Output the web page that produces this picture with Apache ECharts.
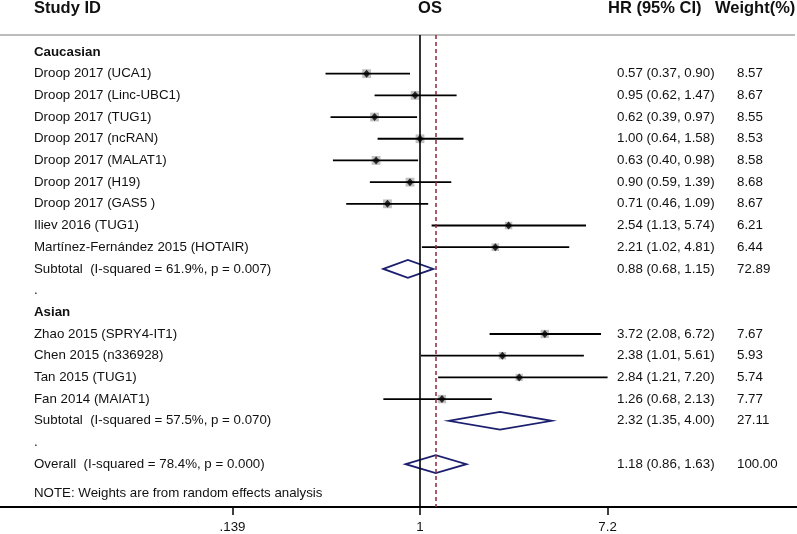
<!DOCTYPE html>
<html><head><meta charset="utf-8">
<script src="https://cdn.jsdelivr.net/npm/echarts@6/dist/echarts.min.js"></script>
<style>html,body{margin:0;padding:0;background:#fff}#c{width:797px;height:534px}</style>
</head><body><div id="c"></div>
<script>
// ---------- data ----------
const headers = ['Study ID', 'OS', 'HR (95% CI)', 'Weight(%)'];
const groupNames = ['Caucasian', 'Asian'];
const cauStudies = ['Droop 2017 (UCA1)', 'Droop 2017 (Linc-UBC1)', 'Droop 2017 (TUG1)', 'Droop 2017 (ncRAN)',
  'Droop 2017 (MALAT1)', 'Droop 2017 (H19)', 'Droop 2017 (GAS5 )', 'Iliev 2016 (TUG1)', 'Martínez-Fernández 2015 (HOTAIR)'];
const cauHR = [0.57, 0.95, 0.62, 1.00, 0.63, 0.90, 0.71, 2.54, 2.21];
const cauLo = [0.37, 0.62, 0.39, 0.64, 0.40, 0.59, 0.46, 1.13, 1.02];
const cauHi = [0.90, 1.47, 0.97, 1.58, 0.98, 1.39, 1.09, 5.74, 4.81];
const cauW  = [8.57, 8.67, 8.55, 8.53, 8.58, 8.68, 8.67, 6.21, 6.44];
const asiStudies = ['Zhao 2015 (SPRY4-IT1)', 'Chen 2015 (n336928)', 'Tan 2015 (TUG1)', 'Fan 2014 (MAIAT1)'];
const asiHR = [3.72, 2.38, 2.84, 1.26];
const asiLo = [2.08, 1.01, 1.21, 0.68];
const asiHi = [6.72, 5.61, 7.20, 2.13];
const asiW  = [7.67, 5.93, 5.74, 7.77];
const subLabels = ['Subtotal  (I-squared = 61.9%, p = 0.007)', 'Subtotal  (I-squared = 57.5%, p = 0.070)'];
const subHR = [0.88, 2.32];
const subLo = [0.68, 1.35];
const subHi = [1.15, 4.00];
const subW  = [72.89, 27.11];
const overallLabel = 'Overall  (I-squared = 78.4%, p = 0.000)';
const overallHR = 1.18, overallLo = 0.86, overallHi = 1.63, overallW = 100.00;
const noteText = 'NOTE: Weights are from random effects analysis';
const tickValues = [0.139, 1, 7.2];
const tickLabels = ['.139', '1', '7.2'];

// ---------- layout constants ----------
const FONT = '"Liberation Sans", Arial, Helvetica, sans-serif';
const FS = 13.3;
const TXT = '#111111';
const LEFT_X = 34, HR_X = 617, W_X = 737;
const NOTE_ROW = 20.36;

// ---------- build rows ----------
const rows = [];
let r = 0;
const groups = [
  {name: groupNames[0], s: cauStudies, hr: cauHR, lo: cauLo, hi: cauHi, w: cauW},
  {name: groupNames[1], s: asiStudies, hr: asiHR, lo: asiLo, hi: asiHi, w: asiW}
];
const fmtCI = (h, l, u) => h.toFixed(2) + ' (' + l.toFixed(2) + ', ' + u.toFixed(2) + ')';
groups.forEach((g, gi) => {
  rows.push({row: r++, kind: 'header', label: g.name});
  g.s.forEach((name, i) => {
    rows.push({row: r++, kind: 'study', label: name, hr: g.hr[i], lo: g.lo[i], hi: g.hi[i], w: g.w[i]});
  });
  rows.push({row: r++, kind: 'sub', label: subLabels[gi], hr: subHR[gi], lo: subLo[gi], hi: subHi[gi], w: subW[gi]});
  rows.push({row: r++, kind: 'dot', label: '.'});
});
rows.push({row: r++, kind: 'sub', label: overallLabel, hr: overallHR, lo: overallLo, hi: overallHi, w: overallW});
rows.push({row: NOTE_ROW, kind: 'note', label: noteText});

const studyRows = rows.filter(d => d.kind === 'study');
const subRows = rows.filter(d => d.kind === 'sub');

const chart = echarts.init(document.getElementById('c'), null, {renderer: 'canvas'});

const option = {
  animation: false,
  backgroundColor: '#fff',
  grid: {left: 0, right: 0, top: 35, bottom: 26},
  xAxis: {
    type: 'log', logBase: 10, position: 'bottom',
    min: 0.012035, max: 52.85,
    axisLine: {show: true, onZero: false, lineStyle: {color: '#000', width: 2}},
    axisTick: {show: true, length: 8, inside: false, lineStyle: {color: '#000', width: 1.5}, customValues: tickValues},
    axisLabel: {
      show: true, margin: 14, fontSize: FS, fontFamily: FONT, color: TXT,
      customValues: tickValues,
      formatter: v => {
        const k = tickValues.findIndex(t => Math.abs(t - v) / t < 1e-3);
        return k >= 0 ? tickLabels[k] : '';
      }
    },
    splitLine: {show: false}
  },
  yAxis: {type: 'value', inverse: true, min: -0.782, max: 20.975, show: false},
  graphic: [
    {type: 'line', shape: {x1: 0, y1: 35, x2: 795, y2: 35}, style: {stroke: '#bcbcbc', lineWidth: 2}, silent: true},
    {type: 'text', x: LEFT_X, y: 8, style: {text: headers[0], font: 'bold 16.5px ' + FONT, fill: TXT, textAlign: 'left', textVerticalAlign: 'middle'}},
    {type: 'text', x: 430, y: 8, style: {text: headers[1], font: 'bold 16.5px ' + FONT, fill: TXT, textAlign: 'center', textVerticalAlign: 'middle'}},
    {type: 'text', x: 608, y: 8, style: {text: headers[2], font: 'bold 16.5px ' + FONT, fill: TXT, textAlign: 'left', textVerticalAlign: 'middle'}},
    {type: 'text', x: 715, y: 8, style: {text: headers[3], font: 'bold 16.5px ' + FONT, fill: TXT, textAlign: 'left', textVerticalAlign: 'middle'}}
  ],
  series: [
    // reference lines
    {
      type: 'line', data: [], silent: true,
      markLine: {
        silent: true, symbol: 'none', label: {show: false},
        data: [
          {xAxis: 1, lineStyle: {color: '#000', type: 'solid', width: 1.6}},
          {xAxis: overallHR, lineStyle: {color: '#8c2a3a', type: [4, 3], width: 1.5}}
        ]
      }
    },
    // weight boxes
    {
      type: 'scatter', z: 2, silent: true,
      data: studyRows.map(d => [d.hr, d.row, d.w]),
      symbol: 'rect',
      symbolSize: v => 3 * Math.sqrt(v[2]),
      itemStyle: {color: '#b0b0b0'}
    },
    // CI lines
    {
      type: 'custom', z: 3, silent: true,
      data: studyRows.map(d => [d.lo, d.hi, d.row]),
      encode: {x: [0, 1], y: 2},
      renderItem: (params, api) => {
        const p1 = api.coord([api.value(0), api.value(2)]);
        const p2 = api.coord([api.value(1), api.value(2)]);
        return {type: 'line', shape: {x1: p1[0], y1: p1[1], x2: p2[0], y2: p2[1]}, style: {stroke: '#000', lineWidth: 1.8}};
      }
    },
    // point estimates
    {
      type: 'scatter', z: 4, silent: true,
      data: studyRows.map(d => [d.hr, d.row]),
      symbol: 'diamond', symbolSize: [7, 8],
      itemStyle: {color: '#000'}
    },
    // pooled diamonds
    {
      type: 'custom', z: 4, silent: true,
      data: subRows.map(d => [d.lo, d.hi, d.hr, d.row]),
      encode: {x: [0, 1, 2], y: 3},
      renderItem: (params, api) => {
        const row = api.value(3);
        const a = api.coord([api.value(0), row]);
        const b = api.coord([api.value(2), row - 0.41]);
        const c = api.coord([api.value(1), row]);
        const d = api.coord([api.value(2), row + 0.41]);
        return {type: 'polygon', shape: {points: [a, b, c, d]}, style: {fill: 'none', stroke: '#1b1f6e', lineWidth: 1.8}};
      }
    },
    // text columns
    {
      type: 'custom', z: 5, silent: true,
      data: rows.map((d, i) => [1, d.row, i]),
      encode: {x: 0, y: 1},
      renderItem: (params, api) => {
        const d = rows[api.value(2)];
        const y = api.coord([1, api.value(1)])[1];
        const bold = d.kind === 'header';
        const children = [{
          type: 'text', x: LEFT_X, y: y,
          style: {text: d.label, font: (bold ? 'bold ' : '') + FS + 'px ' + FONT, fill: TXT, textAlign: 'left', textVerticalAlign: 'middle'}
        }];
        if (d.kind === 'study' || d.kind === 'sub') {
          children.push({type: 'text', x: HR_X, y: y,
            style: {text: fmtCI(d.hr, d.lo, d.hi), font: FS + 'px ' + FONT, fill: TXT, textAlign: 'left', textVerticalAlign: 'middle'}});
          children.push({type: 'text', x: W_X, y: y,
            style: {text: d.w.toFixed(2), font: FS + 'px ' + FONT, fill: TXT, textAlign: 'left', textVerticalAlign: 'middle'}});
        }
        return {type: 'group', children: children};
      }
    }
  ]
};
chart.setOption(option);
</script>
</body></html>
